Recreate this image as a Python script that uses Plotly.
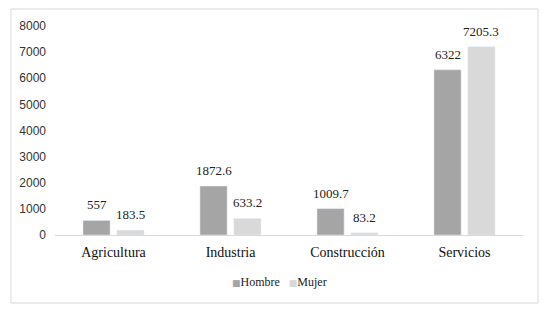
import plotly.graph_objects as go

categories = ["Agricultura", "Industria", "Construcción", "Servicios"]
hombre = [557, 1872.6, 1009.7, 6322]
mujer = [183.5, 633.2, 83.2, 7205.3]
hombre_labels = ["557", "1872.6", "1009.7", "6322"]
mujer_labels = ["183.5", "633.2", "83.2", "7205.3"]
y_ticks = [0, 1000, 2000, 3000, 4000, 5000, 6000, 7000, 8000]
series_names = ["Hombre", "Mujer"]
series_colors = ["#a5a5a5", "#d9d9d9"]

SERIF = "Liberation Serif"
SANS = "Liberation Sans"

fig = go.Figure()
fig.add_trace(go.Bar(name=series_names[0], x=categories, y=hombre, marker_color=series_colors[0],
                     showlegend=False))
fig.add_trace(go.Bar(name=series_names[1], x=categories, y=mujer, marker_color=series_colors[1],
                     showlegend=False))

L, R, T, B = 55, 24, 26, 79
W, H = 547, 314
pw, ph = W - L - R, H - T - B

annotations = []
bargap = 0.42
half_slot = (1 - bargap) / 4
for i, c in enumerate(categories):
    annotations.append(dict(x=i - half_slot, y=hombre[i], xref="x", yref="y", text=hombre_labels[i],
                            showarrow=False, yanchor="bottom", yshift=6,
                            font=dict(family=SERIF, size=13, color="#222222")))
    annotations.append(dict(x=i + half_slot, y=mujer[i], xref="x", yref="y", text=mujer_labels[i],
                            showarrow=False, yanchor="bottom", yshift=6,
                            font=dict(family=SERIF, size=13, color="#222222")))

# legend rendered as text (colored square glyph + series name)
legend_text = "&nbsp;&nbsp;&nbsp;".join(
    f"<span style='color:{col}; font-family:DejaVu Sans; font-size:9px'>■</span>{name}"
    for name, col in zip(series_names, series_colors))
annotations.append(dict(x=(279 - L) / pw, y=(235 - 282) / ph, xref="paper", yref="paper",
                        text=legend_text, showarrow=False, xanchor="center", yanchor="middle",
                        font=dict(family=SERIF, size=12, color="#222222")))

fig.update_layout(
    width=W, height=H,
    margin=dict(l=L, r=R, t=T, b=B, autoexpand=False),
    paper_bgcolor="white", plot_bgcolor="white",
    barmode="group", bargap=bargap, bargroupgap=0.2,
    showlegend=False,
    xaxis=dict(showline=True, linecolor="#d9d9d9", linewidth=1, ticks="", automargin=False,
               tickfont=dict(family=SERIF, size=14, color="#111111"), showgrid=False,
               ticklabelstandoff=4),
    yaxis=dict(range=[0, 8000], tickvals=y_ticks, showgrid=False, zeroline=False, showline=False,
               tickfont=dict(family=SANS, size=12, color="#333333"), ticks="", automargin=False,
               ticklabelstandoff=8),
    annotations=annotations,
    shapes=[dict(type="rect", xref="paper", yref="paper",
                 x0=(11 - L) / pw, x1=(538 - L) / pw,
                 y0=(235 - 303) / ph, y1=(235 - 9) / ph,
                 line=dict(color="#d9d9d9", width=1), fillcolor="rgba(0,0,0,0)", layer="below")],
)

fig.write_html("out.html", config={"displayModeBar": False},
               post_script="document.body.style.margin='0';document.body.style.padding='0';")
